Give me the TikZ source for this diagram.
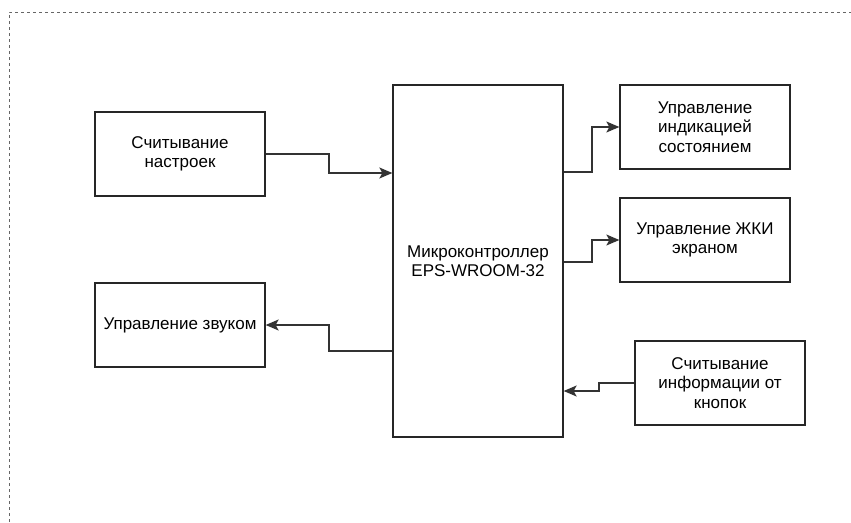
\documentclass[tikz,border=0pt]{standalone}
\usepackage{fontspec}
\setmainfont{Liberation Sans}
\usetikzlibrary{arrows.meta}
\begin{document}
\begin{tikzpicture}[x=1pt,y=-1pt,
  blk/.style={draw=black!85, line width=1.3pt, minimum width=170pt, minimum height=84pt,
    align=center, inner sep=0pt, font=\fontsize{17}{19.5}\selectfont, text=black},
  conn/.style={draw=black!80, line width=1.3pt, -{Stealth[length=13pt,width=11pt,inset=3pt]}},
  frame/.style={draw=black!60, line width=0.8pt, dash pattern=on 3pt off 3pt}]
\useasboundingbox (0,0) rectangle (851,522);
\coordinate (fbl) at (9,522);
\coordinate (ftl) at (9,12);
\coordinate (ftr) at (851,12);
\draw[frame] (fbl) -- (ftl) -- (ftr);

\node[blk] (set) at (180,154) {Считывание\\настроек};
\node[blk, minimum height=352pt] (mcu) at (478,261) {Микроконтроллер\\EPS-WROOM-32};
\node[blk] (ind) at (705,127) {Управление\\индикацией\\состоянием};
\node[blk] (lcd) at (705,240) {Управление ЖКИ\\экраном};
\node[blk] (snd) at (180,325) {Управление звуком};
\node[blk] (btn) at (720,383) {Считывание\\информации от\\кнопок};

\draw[conn] (set.east) -- (329,154) -- (329,173) -- (mcu.west |- 0,173);
\draw[conn] (mcu.east |- 0,172) -- (592,172) -- (592,127) -- (ind.west);
\draw[conn] (mcu.east |- 0,262) -- (592,262) -- (592,240) -- (lcd.west);
\draw[conn] (mcu.west |- 0,351) -- (329,351) -- (329,325) -- (snd.east);
\draw[conn] (btn.west) -- (599,383) -- (599,391) -- (mcu.east |- 0,391);
\end{tikzpicture}
\end{document}
